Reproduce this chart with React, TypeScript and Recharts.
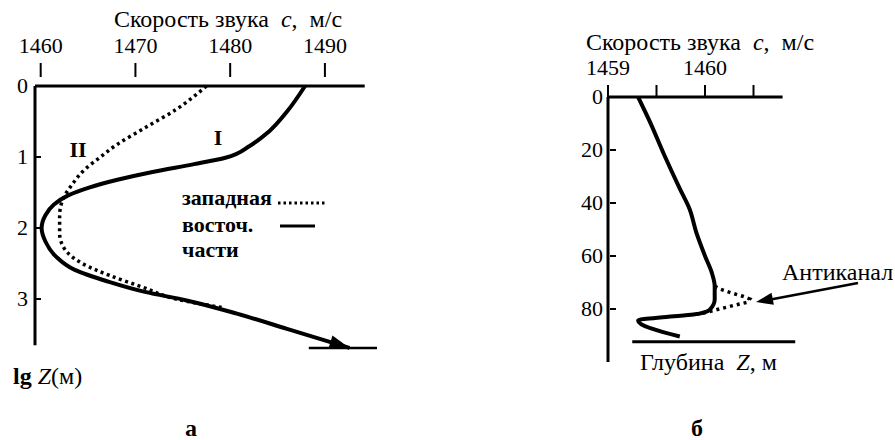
import React from "react";
import { ComposedChart, Line, XAxis, YAxis, ReferenceLine } from "recharts";

// панель а: скорость звука от lg Z, кривая I (восточная часть)
const eastLgZ = [0, 0.36, 0.64, 0.84, 1.01, 1.1, 1.21, 1.32, 1.43, 1.54, 1.67, 1.82, 2.0, 2.19, 2.4, 2.59, 2.75, 2.9, 3.02, 3.21, 3.42, 3.69];
const eastSpeed = [1487.9, 1486.0, 1484.1, 1482.1, 1479.5, 1476.2, 1471.8, 1468.1, 1465.1, 1462.9, 1461.4, 1460.5, 1460.1, 1460.5, 1461.6, 1463.6, 1467.0, 1471.0, 1475.4, 1480.8, 1486.0, 1492.6];
// кривая II (западная часть)
const westLgZ = [0, 0.33, 0.59, 0.82, 1.01, 1.17, 1.39, 1.61, 1.83, 2.08, 2.29, 2.5, 2.67, 2.83, 3.0, 3.12];
const westSpeed = [1477.5, 1474.3, 1471.0, 1468.1, 1466.2, 1464.7, 1463.3, 1462.3, 1462.0, 1462.0, 1462.5, 1464.4, 1467.3, 1470.7, 1474.3, 1479.1];
const speedTicksA = [1460, 1470, 1480, 1490];
const lgZTicks = [0, 1, 2, 3];

// панель б: профиль с антиканалом
const profileDepth = [0, 9.2, 21.9, 34.6, 42.2, 51.1, 60, 66.3, 71.4, 76.4, 80.2, 82.1, 83.0, 84.3, 90.4];
const profileSpeed = [1459.31, 1459.43, 1459.58, 1459.74, 1459.84, 1459.91, 1460.0, 1460.07, 1460.1, 1460.1, 1460.05, 1459.88, 1459.6, 1459.31, 1459.74];
const antiDepth = [71.4, 72.4, 73.9, 75.2, 76.2, 77.5, 78.7, 80.0, 81.3, 82.1];
const antiSpeed = [1460.1, 1460.15, 1460.27, 1460.39, 1460.46, 1460.43, 1460.29, 1460.15, 1460.01, 1459.89];
const speedTicksB = [1459, 1459.5, 1460, 1460.5];
const depthTicks = [0, 20, 40, 60, 80];

const SERIF = "Liberation Serif";

const toRows = (cs: number[], zs: number[]) => cs.map((c, i) => ({ c, z: zs[i] }));
const eastData = toRows(eastSpeed, eastLgZ);
const westData = toRows(westSpeed, westLgZ);
const profileData = toRows(profileSpeed, profileDepth);
const antiData = toRows(antiSpeed, antiDepth);

const YTick = (props: any) => {
  const { x, y, payload } = props;
  return (
    <g>
      <text x={x} y={y} dy={7} textAnchor="end" fontFamily={SERIF} fontSize={22} fill="#000">
        {payload.value}
      </text>
      {payload.value !== 0 && <line x1={x + 7} x2={x + 13} y1={y} y2={y} stroke="#000" strokeWidth={2} />}
    </g>
  );
};

// наконечник стрелки в конце кривой I
const ArrowDot = (props: any) => {
  const { cx, cy, index } = props;
  if (index !== eastData.length - 1 || cx == null) return <g key={index} />;
  return (
    <polygon
      key={index}
      points="0,0 -20,-7 -20,7"
      fill="#000"
      transform={`translate(${cx},${cy}) rotate(17)`}
    />
  );
};

const Txt = ({ x, y, children, center, size = 24, bold }: any) => (
  <div
    style={{
      position: "absolute",
      left: x,
      top: y,
      transform: center ? "translate(-50%, -50%)" : "translateY(-50%)",
      fontFamily: SERIF,
      fontSize: size,
      fontWeight: bold ? "bold" : "normal",
      lineHeight: 1,
      whiteSpace: "nowrap",
      color: "#000",
    }}
  >
    {children}
  </div>
);

export default function App() {
  const axisTick = { fill: "#000", fontSize: 22, fontFamily: SERIF };
  return (
    <div style={{ position: "absolute", left: 0, top: 0, width: 895, height: 440, background: "#fff", overflow: "hidden" }}>
      <div style={{ position: "absolute", left: 0, top: 0 }}>
        <ComposedChart layout="vertical" width={420} height={440} margin={{ top: 37, right: 33.5, bottom: 68, left: 0 }}>
          <XAxis
            type="number"
            orientation="top"
            domain={[1459.4, 1496.5]}
            ticks={speedTicksA}
            height={40}
            axisLine={false}
            tickLine={{ stroke: "#000", strokeWidth: 2 }}
            tickSize={14}
            tickMargin={10}
            tick={axisTick}
            allowDataOverflow
          />
          <YAxis
            type="number"
            dataKey="z"
            domain={[-0.127, 4.028]}
            ticks={lgZTicks}
            width={35}
            axisLine={false}
            tickLine={false}
            tickSize={0}
            tickMargin={7}
            tick={<YTick />}
            allowDataOverflow
          />
          <ReferenceLine segment={[{ x: 1459.4, y: 0 }, { x: 1494.2, y: 0 }]} stroke="#000" strokeWidth={3} />
          <ReferenceLine segment={[{ x: 1459.4, y: 0 }, { x: 1459.4, y: 3.65 }]} stroke="#000" strokeWidth={3} />
          <ReferenceLine segment={[{ x: 1488.3, y: 3.69 }, { x: 1495.5, y: 3.69 }]} stroke="#000" strokeWidth={2.5} />
          <Line
            data={westData}
            dataKey="c"
            type="monotone"
            stroke="#000"
            strokeWidth={3.5}
            strokeDasharray="3 3.5"
            dot={false}
            isAnimationActive={false}
          />
          <Line
            data={eastData}
            dataKey="c"
            type="monotone"
            stroke="#000"
            strokeWidth={4}
            dot={<ArrowDot />}
            activeDot={false}
            isAnimationActive={false}
          />
        </ComposedChart>
      </div>

      <div style={{ position: "absolute", left: 450, top: 0 }}>
        <ComposedChart layout="vertical" width={445} height={440} margin={{ top: 57, right: 93, bottom: 78, left: 118 }}>
          <XAxis
            type="number"
            orientation="top"
            domain={[1459, 1461]}
            ticks={speedTicksB}
            tickFormatter={(v: number) => (Number.isInteger(v) ? String(v) : "")}
            height={40}
            axisLine={false}
            tickLine={{ stroke: "#000", strokeWidth: 2 }}
            tickSize={12}
            tickMargin={10}
            tick={axisTick}
            allowDataOverflow
          />
          <YAxis
            type="number"
            dataKey="z"
            domain={[0, 100]}
            ticks={depthTicks}
            width={40}
            axisLine={false}
            tickLine={false}
            tickSize={0}
            tickMargin={5}
            tick={<YTick />}
            allowDataOverflow
          />
          <ReferenceLine segment={[{ x: 1459, y: 0 }, { x: 1460.8, y: 0 }]} stroke="#000" strokeWidth={3} />
          <ReferenceLine segment={[{ x: 1459, y: 0 }, { x: 1459, y: 100 }]} stroke="#000" strokeWidth={3} />
          <ReferenceLine segment={[{ x: 1459.25, y: 92.4 }, { x: 1460.93, y: 92.4 }]} stroke="#000" strokeWidth={3} />
          <Line
            data={antiData}
            dataKey="c"
            type="linear"
            stroke="#000"
            strokeWidth={3.5}
            strokeDasharray="3 4"
            dot={false}
            isAnimationActive={false}
          />
          <Line
            data={profileData}
            dataKey="c"
            type="monotone"
            stroke="#000"
            strokeWidth={4}
            dot={false}
            isAnimationActive={false}
          />
        </ComposedChart>
      </div>

      <svg width={895} height={440} style={{ position: "absolute", left: 0, top: 0, pointerEvents: "none" }}>
        {/* образцы линий в подписи */}
        <line x1={278} x2={326} y1={203} y2={203} stroke="#000" strokeWidth={3} strokeDasharray="2.5 3" />
        <line x1={280} x2={315} y1={226} y2={226} stroke="#000" strokeWidth={3} />
        {/* стрелка к антиканалу */}
        <line x1={858} y1={283} x2={768} y2={300} stroke="#000" strokeWidth={2.5} />
        <polygon points="0,0 -17,-6 -17,6" fill="#000" transform="translate(756,302) rotate(169)" />
      </svg>

      <Txt x={228} y={19} center>
        Скорость звука&nbsp; <i>c</i>,&nbsp; м/с
      </Txt>
      <Txt x={700} y={42} center>
        Скорость звука&nbsp; <i>c</i>,&nbsp; м/с
      </Txt>
      <Txt x={218} y={138} center size={22} bold>I</Txt>
      <Txt x={78} y={150} center size={22} bold>II</Txt>
      <Txt x={182} y={198} size={22} bold>западная</Txt>
      <Txt x={182} y={225} size={22} bold>восточ.</Txt>
      <Txt x={182} y={250} size={22} bold>части</Txt>
      <Txt x={13} y={376}>
        <b>lg</b> <i>Z</i>(м)
      </Txt>
      <Txt x={782} y={272}>Антиканал</Txt>
      <Txt x={640} y={362}>
        Глубина&nbsp; <i>Z</i>, м
      </Txt>
      <Txt x={191} y={428} center bold>а</Txt>
      <Txt x={697} y={428} center bold>б</Txt>
    </div>
  );
}
